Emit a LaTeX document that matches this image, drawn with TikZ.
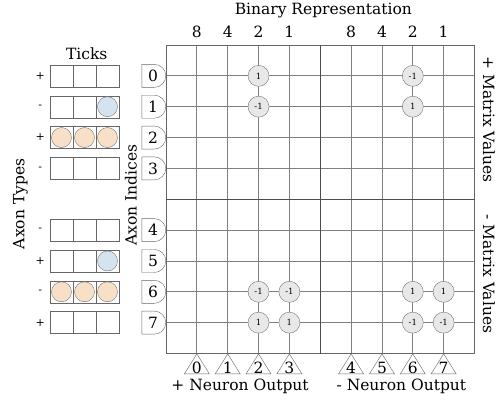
\documentclass[tikz,border=0pt]{standalone}
\usepackage{fontspec}
\setmainfont{DejaVu Serif}
\usetikzlibrary{positioning,shapes.misc,shapes.geometric}

\definecolor{tickblue}{HTML}{D5E3F1}
\definecolor{tickorange}{HTML}{F8E0C8}
\definecolor{valgray}{HTML}{E8E8E8}

\tikzset{
  gridline/.style={draw=black!50,line width=0.8pt},
  borderline/.style={draw=black!60,line width=0.9pt},
  midline/.style={draw=black!70,line width=1.3pt},
  axon/.style={rounded rectangle,rounded rectangle left arc=none,draw=black!60,fill=white,
    minimum width=24pt,minimum height=23pt,inner sep=0pt,anchor=east},
  neuron/.style={isosceles triangle,isosceles triangle apex angle=66,isosceles triangle stretches,
    shape border rotate=90,draw=black!60,fill=white,minimum width=25pt,minimum height=20pt,
    inner sep=0pt,anchor=apex},
  val/.style={circle,draw=black!55,fill=valgray,minimum size=21pt,inner sep=0pt,
    font=\fontsize{8.5}{10}\selectfont},
  tickcell/.style={draw=black!60,minimum width=23pt,minimum height=22pt,inner sep=0pt},
  spike/.style={circle,draw=black!55,minimum size=20pt,inner sep=0pt},
  sign/.style={font=\fontsize{11}{13}\selectfont},
}

\begin{document}
\begin{tikzpicture}[x=30.85pt,y=-30.85pt,font=\fontsize{15.5}{18}\selectfont]
  \useasboundingbox (-5.381,-1.4587) rectangle (10.859,11.54);

  % axon index nodes and neuron outputs
  \foreach \i/\yy in {0/1,1/2,2/3,3/4,4/6,5/7,6/8,7/9}
    \node[axon] (a\i) at (0,\yy) {\i};
  \foreach \j/\xx in {0/1,1/2,2/3,3/4,4/6,5/7,6/8,7/9} {
    \node[neuron] (n\j) at (\xx,10) {};
    \node[anchor=south,inner sep=0.5pt] at (n\j.lower side) {\j};
  }

  % crossbar
  \foreach \i/\yy in {0/1,1/2,2/3,3/4,4/6,5/7,6/8,7/9} {
    \coordinate (r\i) at (10,\yy);
    \draw[gridline] (a\i.east) -- (r\i);
  }
  \foreach \j/\xx in {0/1,1/2,2/3,3/4,4/6,5/7,6/8,7/9} {
    \coordinate (c\j) at (\xx,0);
    \draw[gridline] (c\j) -- (n\j.apex);
  }
  \draw[borderline] (0,0) rectangle (10,10);
  \draw[midline] (5,0) -- (5,10) (0,5) -- (10,5);

  % matrix values
  \foreach \yy/\xx/\v in {1/3/1,1/8/-1,2/3/-1,2/8/1,8/3/-1,8/4/-1,8/8/1,8/9/1,
                          9/3/1,9/4/1,9/8/-1,9/9/-1}
    \node[val] (v\yy\xx) at (\xx,\yy) {\v};

  % bit weights
  \foreach \xx/\b in {1/8,2/4,3/2,4/1,6/8,7/4,8/2,9/1}
    \node (b\xx) at (\xx,-0.43) {\b};
  \node (binrep) at (5.1,-1.13) {Binary Representation};

  % ticks per axon
  \foreach \i/\s/\yy in {0/+/1,1/-/2,2/+/3,3/-/4,4/-/6,5/+/7,6/-/8,7/+/9} {
    \node[sign] (s\i) at (-4.08,\yy) {\s};
    \foreach \c in {1,2,3}
      \node[tickcell] (t\i-\c) at ({-3.76+(\c-0.5)*0.7455},\yy) {};
  }
  \node[spike,fill=tickblue] at (t1-3) {};
  \node[spike,fill=tickblue] at (t5-3) {};
  \foreach \c in {1,2,3} {
    \node[spike,fill=tickorange] at (t2-\c) {};
    \node[spike,fill=tickorange] at (t6-\c) {};
  }
  \node (ticks) at (-2.57,0.27) {Ticks};

  % axis labels
  \node[rotate=90] (types) at (-4.72,5.15) {Axon Types};
  \node[rotate=90] (indices) at (-1.14,4.86) {Axon Indices};
  \node[rotate=-90] (posval) at (10.47,2.42) {+ Matrix Values};
  \node[rotate=-90] (negval) at (10.47,7.42) {- Matrix Values};
  \node (posout) at (2.4,11.08) {+ Neuron Output};
  \node (negout) at (7.63,11.08) {- Neuron Output};
\end{tikzpicture}
\end{document}
